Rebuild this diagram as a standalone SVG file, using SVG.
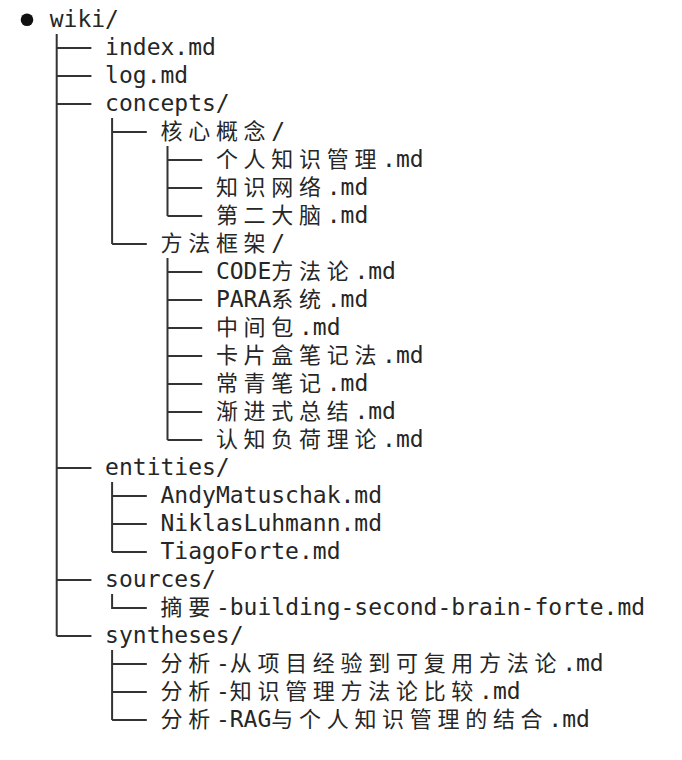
<svg xmlns="http://www.w3.org/2000/svg" width="682" height="760" viewBox="0 0 682 760">
<style>
text{font-family:"DejaVu Sans Mono","Liberation Mono","Noto Sans CJK SC",monospace;font-size:23px;fill:#262626}
.c{font-family:"Noto Sans CJK SC","Noto Sans CJK JP",sans-serif;font-size:22px}
.ln{fill:none;stroke:#333;stroke-width:2;stroke-linecap:butt;stroke-linejoin:miter}
</style>
<rect width="682" height="760" fill="#fff"/>
<g id="connectors" class="ln">
<path d="M56.7 34V636"/>
<path d="M56.7 48H91.4M56.7 76H91.4M56.7 104H91.4M56.7 468H91.4M56.7 580H91.4M56.7 636H91.4"/>
<path d="M112.1 118V244M112.1 132H146.8M112.1 244H146.8"/>
<path d="M167.5 146V216M167.5 160H202.2M167.5 188H202.2M167.5 216H202.2"/>
<path d="M167.5 258V440M167.5 272H202.2M167.5 300H202.2M167.5 328H202.2M167.5 356H202.2M167.5 384H202.2M167.5 412H202.2M167.5 440H202.2"/>
<path d="M112.1 482V552M112.1 496H146.8M112.1 524H146.8M112.1 552H146.8"/>
<path d="M112.1 594V608H146.8"/>
<path d="M112.1 650V720M112.1 664H146.8M112.1 692H146.8M112.1 720H146.8"/>
</g>
<g id="root"><circle cx="27" cy="19.7" r="6.3" fill="#111"/><text x="49.7" y="27">wiki/</text></g>
<g id="n-index"><text x="105.1" y="55">index.md</text></g>
<g id="n-log"><text x="105.1" y="83">log.md</text></g>
<g id="n-concepts"><text x="105.1" y="111">concepts/</text></g>
<g id="n-core"><text y="139"><tspan class="c" x="160.5 188.2 215.9 243.6">核心概念</tspan><tspan x="271.3">/</tspan></text></g>
<g id="n-pkm"><text y="167"><tspan class="c" x="215.9 243.6 271.3 299 326.7 354.4">个人知识管理</tspan><tspan x="382.1">.md</tspan></text></g>
<g id="n-net"><text y="195"><tspan class="c" x="215.9 243.6 271.3 299">知识网络</tspan><tspan x="326.7">.md</tspan></text></g>
<g id="n-brain"><text y="223"><tspan class="c" x="215.9 243.6 271.3 299">第二大脑</tspan><tspan x="326.7">.md</tspan></text></g>
<g id="n-frame"><text y="251"><tspan class="c" x="160.5 188.2 215.9 243.6">方法框架</tspan><tspan x="271.3">/</tspan></text></g>
<g id="n-code"><text y="279"><tspan x="215.9">CODE</tspan><tspan class="c" x="271.3 299 326.7">方法论</tspan><tspan x="354.4">.md</tspan></text></g>
<g id="n-para"><text y="307"><tspan x="215.9">PARA</tspan><tspan class="c" x="271.3 299">系统</tspan><tspan x="326.7">.md</tspan></text></g>
<g id="n-packet"><text y="335"><tspan class="c" x="215.9 243.6 271.3">中间包</tspan><tspan x="299">.md</tspan></text></g>
<g id="n-zettel"><text y="363"><tspan class="c" x="215.9 243.6 271.3 299 326.7 354.4">卡片盒笔记法</tspan><tspan x="382.1">.md</tspan></text></g>
<g id="n-evergreen"><text y="391"><tspan class="c" x="215.9 243.6 271.3 299">常青笔记</tspan><tspan x="326.7">.md</tspan></text></g>
<g id="n-progressive"><text y="419"><tspan class="c" x="215.9 243.6 271.3 299 326.7">渐进式总结</tspan><tspan x="354.4">.md</tspan></text></g>
<g id="n-cognitive"><text y="447"><tspan class="c" x="215.9 243.6 271.3 299 326.7 354.4">认知负荷理论</tspan><tspan x="382.1">.md</tspan></text></g>
<g id="n-entities"><text x="105.1" y="475">entities/</text></g>
<g id="n-andy"><text x="160.5" y="503">AndyMatuschak.md</text></g>
<g id="n-niklas"><text x="160.5" y="531">NiklasLuhmann.md</text></g>
<g id="n-tiago"><text x="160.5" y="559">TiagoForte.md</text></g>
<g id="n-sources"><text x="105.1" y="587">sources/</text></g>
<g id="n-summary"><text y="615"><tspan class="c" x="160.5 188.2">摘要</tspan><tspan x="215.9">-building-second-brain-forte.md</tspan></text></g>
<g id="n-syntheses"><text x="105.1" y="643">syntheses/</text></g>
<g id="n-an1"><text y="671"><tspan class="c" x="160.5 188.2">分析</tspan><tspan x="215.9">-</tspan><tspan class="c" x="229.75 257.45 285.15 312.85 340.55 368.25 395.95 423.65 451.35 479.05 506.75 534.45">从项目经验到可复用方法论</tspan><tspan x="562.15">.md</tspan></text></g>
<g id="n-an2"><text y="699"><tspan class="c" x="160.5 188.2">分析</tspan><tspan x="215.9">-</tspan><tspan class="c" x="229.75 257.45 285.15 312.85 340.55 368.25 395.95 423.65 451.35">知识管理方法论比较</tspan><tspan x="479.05">.md</tspan></text></g>
<g id="n-an3"><text y="727"><tspan class="c" x="160.5 188.2">分析</tspan><tspan x="215.9">-RAG</tspan><tspan class="c" x="271.3 299 326.7 354.4 382.1 409.8 437.5 465.2 492.9 520.6">与个人知识管理的结合</tspan><tspan x="548.3">.md</tspan></text></g>
</svg>
